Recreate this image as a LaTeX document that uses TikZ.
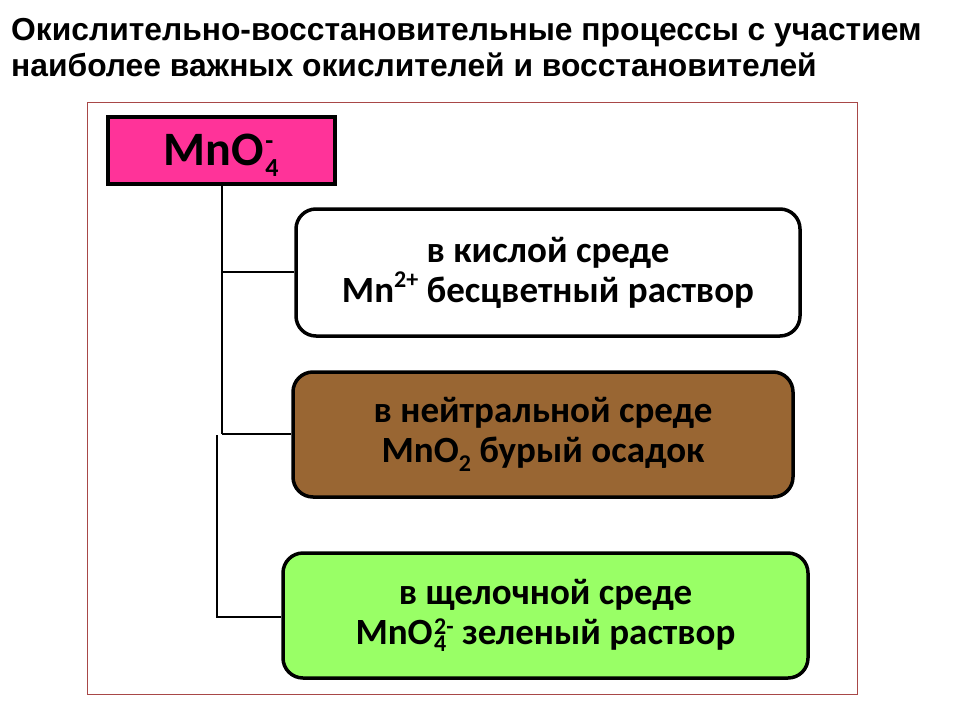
\documentclass[tikz,border=0pt]{standalone}
\usepackage{fontspec}
\setmainfont{Carlito}
\newfontfamily\titlefont{Liberation Sans}
% #1 size, #2 raise of sup (em), #3 lower of sub (em), #4 sup, #5 sub
\newcommand\supsubx[5]{\begingroup\fontsize{#1}{#1}\selectfont\setbox0\hbox{#4}\setbox2\hbox{#5}%
\ifdim\wd0>\wd2 \dimen0=\wd0 \else\dimen0=\wd2 \fi%
\kern0.06em\rlap{\raise #2em\box0}\rlap{\lower #3em\box2}\hspace{\dimen0}\endgroup}
\newcommand\hix[1]{\raisebox{0.4em}{\fontsize{24}{24}\selectfont #1}}
\newcommand\lox[1]{\raisebox{-0.25em}{\fontsize{24}{24}\selectfont #1}}
\definecolor{pinkc}{HTML}{FF3399}
\definecolor{brownc}{HTML}{996633}
\definecolor{greenc}{HTML}{99FF66}
\definecolor{framec}{HTML}{A84848}
\begin{document}
\begin{tikzpicture}[x=1pt,y=-1pt,
  rbox/.style={draw=black,line width=3.5pt,rounded corners=20pt,align=center,
    font=\fontsize{37}{40}\selectfont\bfseries,inner sep=0pt,anchor=center},
  conn/.style={draw=black,line width=2.6pt},
  ttl/.style={anchor=base west,inner sep=0pt,font=\titlefont\fontsize{31.8}{34}\selectfont\bfseries}]
\useasboundingbox (0,0) rectangle (960,720);
\fill[white] (0,0) rectangle (960,720);
\node[ttl] (t1) at (11,40) {Окислительно-восстановительные процессы с участием};
\node[ttl] (t2) at (11,76) {наиболее важных окислителей и восстановителей};
\draw[framec,line width=1pt] (87,102) rectangle (857,694);
\node[draw=black,fill=pinkc,line width=4pt,minimum width=227pt,minimum height=67pt,inner sep=0pt,
  text height=31pt,text depth=2pt,
  font=\fontsize{48}{48}\selectfont\bfseries] (mno) at (221.5,150.5) {\kern-14pt MnO\supsubx{26}{0.6}{0.45}{-}{4}};
\node[rbox,fill=white,minimum width=504pt,minimum height=127pt] (b1) at (548,272.5)
  {в кислой среде\\Mn\hix{2+} бесцветный раствор};
\node[rbox,fill=brownc,minimum width=500pt,minimum height=125pt] (b2) at (543,434.5)
  {в нейтральной среде\\MnO\lox{2} бурый осадок};
\node[rbox,fill=greenc,minimum width=525pt,minimum height=125pt] (b3) at (545.5,615.5)
  {в щелочной среде\\MnO\supsubx{24}{0.42}{0.3}{2-}{4} зеленый раствор};
\coordinate (j1) at (222,272);
\coordinate (j2) at (222,434);
\coordinate (k1) at (217,435);
\coordinate (k2) at (217,617);
\draw[conn] (mno.south -| j1) -- (j2);
\draw[conn] (j1) -- (j1 -| b1.west);
\draw[conn] (j2) -- (j2 -| b2.west);
\draw[conn] (k1) -- (k2) -- (k2 -| b3.west);
\end{tikzpicture}
\end{document}
